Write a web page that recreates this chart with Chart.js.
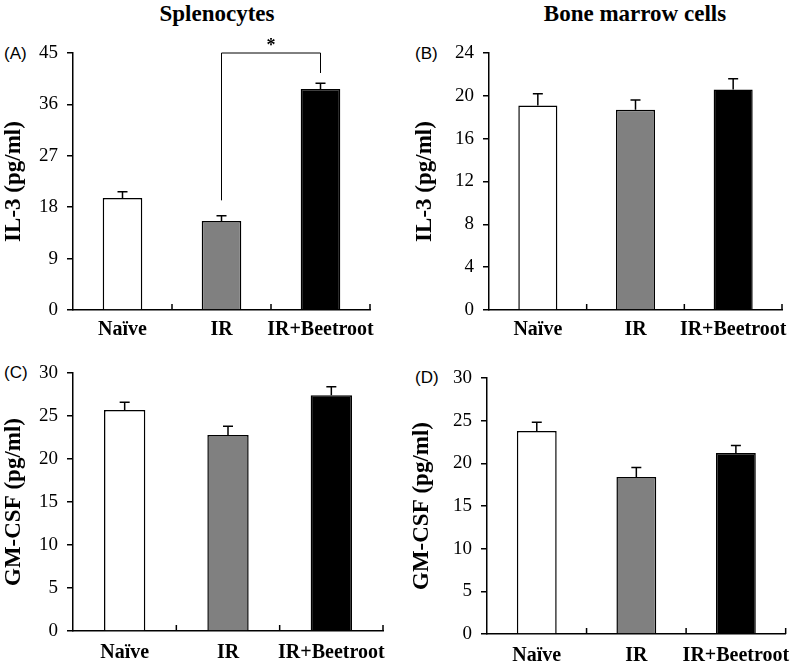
<!DOCTYPE html>
<html>
<head>
<meta charset="utf-8">
<script src="https://cdn.jsdelivr.net/npm/chart.js@4.4.0/dist/chart.umd.min.js"></script>
<style>
body { margin: 0; background: #fff; }
#wrap { position: relative; width: 800px; height: 663px; overflow: hidden; }
canvas { position: absolute; }
.title { position: absolute; font: bold 23px "Liberation Serif", serif; transform: translateX(-50%); white-space: nowrap; color: #000; }
.tag { position: absolute; font: 17px "Liberation Sans", sans-serif; color: #000; }
</style>
</head>
<body>
<div id="wrap">
  <div class="title" style="left:217px; top:1px;">Splenocytes</div>
  <div class="title" style="left:635px; top:1px;">Bone marrow cells</div>
  <div class="tag" style="left:4px; top:44px;">(A)</div>
  <div class="tag" style="left:415px; top:44px;">(B)</div>
  <div class="tag" style="left:4px; top:363px;">(C)</div>
  <div class="tag" style="left:415px; top:368px;">(D)</div>
  <canvas id="chartA" width="400" height="340" style="left:0; top:0;"></canvas>
  <canvas id="chartB" width="400" height="340" style="left:400px; top:0;"></canvas>
  <canvas id="chartC" width="400" height="323" style="left:0; top:340px;"></canvas>
  <canvas id="chartD" width="400" height="323" style="left:400px; top:340px;"></canvas>
</div>
<script>
// groups and bar fills
const groups = ['Naïve', 'IR', 'IR+Beetroot'];
const barColors = ['#ffffff', '#808080', '#000000'];

// IL-3, splenocytes
const il3Spleen = [19.6, 15.6, 38.7];
const il3SpleenErr = [1.1, 0.9, 1.0];
// IL-3, bone marrow cells
const il3Marrow = [19.1, 18.7, 20.6];
const il3MarrowErr = [1.1, 0.9, 1.0];
// GM-CSF, splenocytes
const gmSpleen = [25.7, 22.8, 27.4];
const gmSpleenErr = [0.9, 1.0, 1.0];
// GM-CSF, bone marrow cells
const gmMarrow = [23.8, 18.4, 21.2];
const gmMarrowErr = [1.0, 1.1, 0.9];

// significance bracket in panel A: IR vs IR+Beetroot (values in pg/ml)
const sigPair = [1, 2];
const sigLegBottoms = [19.2, 41.5];
const sigTop = 45;

const serif = '"Liberation Serif", "Times New Roman", serif';

// upward error bars with a cap
const errorBars = {
    id: 'errorBars',
    afterDatasetsDraw(chart) {
        const errs = chart.options.plugins.errorBars.errors;
        const vals = chart.data.datasets[0].data;
        const y = chart.scales.y;
        const ctx = chart.ctx;
        ctx.save();
        ctx.strokeStyle = '#000';
        ctx.lineWidth = 1.5;
        chart.getDatasetMeta(0).data.forEach((bar, i) => {
            const top = y.getPixelForValue(vals[i] + errs[i]);
            ctx.beginPath();
            ctx.moveTo(bar.x, bar.y);
            ctx.lineTo(bar.x, top);
            ctx.moveTo(bar.x - 5, top);
            ctx.lineTo(bar.x + 5, top);
            ctx.stroke();
        });
        ctx.restore();
    }
};

// small inward ticks at category boundaries on the x axis
const xTicks = {
    id: 'xTicks',
    afterDraw(chart) {
        const x = chart.scales.x;
        const ctx = chart.ctx;
        const half = (x.getPixelForValue(1) - x.getPixelForValue(0)) / 2;
        const base = chart.chartArea.bottom;
        ctx.save();
        ctx.strokeStyle = '#000';
        ctx.lineWidth = 1.5;
        for (let i = 0; i < groups.length; i++) {
            const px = x.getPixelForValue(i) + half;
            ctx.beginPath();
            ctx.moveTo(px, base);
            ctx.lineTo(px, base - 6);
            ctx.stroke();
        }
        ctx.restore();
    }
};

const bracket = {
    id: 'bracket',
    afterDraw(chart) {
        const x = chart.scales.x;
        const y = chart.scales.y;
        const ctx = chart.ctx;
        const x1 = x.getPixelForValue(sigPair[0]);
        const x2 = x.getPixelForValue(sigPair[1]);
        const yt = y.getPixelForValue(sigTop);
        ctx.save();
        ctx.strokeStyle = '#000';
        ctx.lineWidth = 1;
        ctx.beginPath();
        ctx.moveTo(x1, y.getPixelForValue(sigLegBottoms[0]));
        ctx.lineTo(x1, yt);
        ctx.lineTo(x2, yt);
        ctx.lineTo(x2, y.getPixelForValue(sigLegBottoms[1]));
        ctx.stroke();
        ctx.fillStyle = '#000';
        ctx.font = 'bold 18px ' + serif;
        ctx.textAlign = 'center';
        ctx.textBaseline = 'middle';
        ctx.fillText('*', (x1 + x2) / 2, yt - 7);
        ctx.restore();
    }
};

function makePanel(id, values, errors, max, step, yTitle, lay, extra) {
    const plugins = [errorBars, xTicks];
    if (extra) plugins.push(extra);
    new Chart(document.getElementById(id), {
        type: 'bar',
        data: {
            labels: groups,
            datasets: [{
                data: values,
                backgroundColor: barColors,
                borderColor: '#000',
                borderWidth: 1.5,
                categoryPercentage: 1,
                barPercentage: 0.4
            }]
        },
        options: {
            responsive: false,
            animation: false,
            layout: { padding: { left: 0, top: lay.top, right: lay.right, bottom: 0 } },
            plugins: {
                legend: { display: false },
                tooltip: { enabled: false },
                errorBars: { errors: errors }
            },
            scales: {
                x: {
                    grid: { display: false, drawTicks: false },
                    border: { display: true, color: '#000', width: 1.5 },
                    ticks: {
                        color: '#000', padding: lay.xPad,
                        autoSkip: false, maxRotation: 0, minRotation: 0,
                        font: { family: serif, size: 20, weight: 'bold' }
                    },
                    afterFit: s => { s.height = lay.xHeight; }
                },
                y: {
                    min: 0,
                    max: max,
                    ticks: { stepSize: step, color: '#000', padding: 9, font: { family: serif, size: 19 } },
                    grid: { drawOnChartArea: false, color: '#000', lineWidth: 1.5, tickLength: 6 },
                    border: { display: true, color: '#000', width: 1.5 },
                    title: {
                        display: true,
                        text: yTitle,
                        color: '#000',
                        padding: { top: lay.titlePad, bottom: 0 },
                        font: { family: serif, size: 23, weight: 'bold' }
                    },
                    afterFit: s => { s.width = lay.yWidth; }
                }
            }
        },
        plugins: plugins
    });
}

makePanel('chartA', il3Spleen, il3SpleenErr, 45, 9, 'IL-3 (pg/ml)',
    { top: 53, right: 30, yWidth: 73, xHeight: 30, xPad: 8, titlePad: 0 }, bracket);
makePanel('chartB', il3Marrow, il3MarrowErr, 24, 4, 'IL-3 (pg/ml)',
    { top: 53, right: 18, yWidth: 89, xHeight: 30, xPad: 8, titlePad: 11 });
makePanel('chartC', gmSpleen, gmSpleenErr, 30, 5, 'GM-CSF (pg/ml)',
    { top: 33, right: 17, yWidth: 73, xHeight: 32, xPad: 10, titlePad: 0 });
makePanel('chartD', gmMarrow, gmMarrowErr, 30, 5, 'GM-CSF (pg/ml)',
    { top: 38, right: 5, yWidth: 87, xHeight: 29, xPad: 10, titlePad: 8 });
</script>
</body>
</html>
